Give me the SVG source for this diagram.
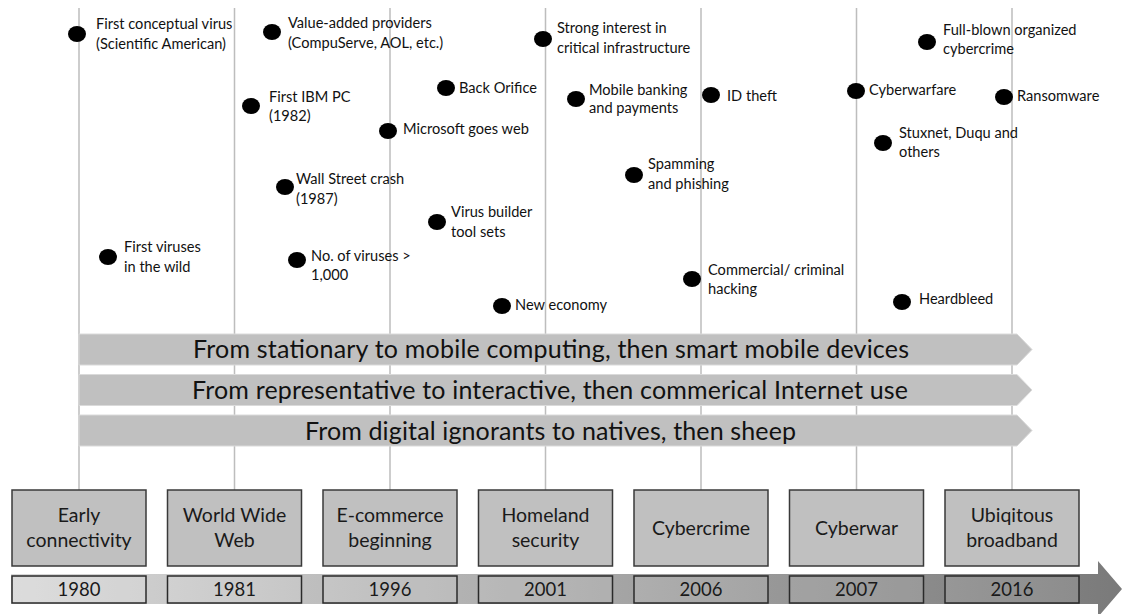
<svg xmlns="http://www.w3.org/2000/svg" width="1122" height="614" viewBox="0 0 1122 614">
<style>
.lbl{font-family:Lato,"Liberation Sans",sans-serif;font-size:14.6px;fill:#111}
.dot{fill:#000}
.vline{stroke:#bdbdbd;stroke-width:1.5;fill:none}
.trend{fill:#c0c0c0;stroke:#dadada;stroke-width:1}
.trendtxt{font-family:Lato,"Liberation Sans",sans-serif;font-size:25px;fill:#111;text-anchor:middle}
.box{fill:#c0c0c0;stroke:#3a3a3a;stroke-width:1.5}
.year{fill:#ffffff;fill-opacity:0.12;stroke:#2a2a2a;stroke-width:1.5}
.boxtxt{font-family:Lato,"Liberation Sans",sans-serif;font-size:19.5px;fill:#1a1a1a;text-anchor:middle}
.yeartxt{font-family:Lato,"Liberation Sans",sans-serif;font-size:18.5px;fill:#1a1a1a;text-anchor:middle}
</style>
<defs>
<linearGradient id="band" gradientUnits="userSpaceOnUse" x1="11" y1="0" x2="1122" y2="0">
<stop offset="0" stop-color="#d8d8d8"/>
<stop offset="1" stop-color="#7a7a7a"/>
</linearGradient>
</defs>
<rect width="1122" height="614" fill="#fff"/>
<g id="connectors">
<line class="vline" x1="79" y1="8" x2="79" y2="490"/>
<line class="vline" x1="234.5" y1="8" x2="234.5" y2="490"/>
<line class="vline" x1="390" y1="8" x2="390" y2="490"/>
<line class="vline" x1="545.5" y1="8" x2="545.5" y2="490"/>
<line class="vline" x1="701" y1="8" x2="701" y2="490"/>
<line class="vline" x1="856.5" y1="8" x2="856.5" y2="490"/>
<line class="vline" x1="1012" y1="8" x2="1012" y2="490"/>
</g>
<g id="trend1">
<path class="trend" d="M79,334 H1017 L1032,349.5 L1017,365 H79 Z"/>
<text class="trendtxt" x="551" y="358" textLength="716">From stationary to mobile computing, then smart mobile devices</text>
</g>
<g id="trend2">
<path class="trend" d="M79,374.5 H1017 L1032,390 L1017,405.5 H79 Z"/>
<text class="trendtxt" x="550" y="399" textLength="716">From representative to interactive, then commerical Internet use</text>
</g>
<g id="trend3">
<path class="trend" d="M79,415 H1017 L1032,430.5 L1017,446 H79 Z"/>
<text class="trendtxt" x="550.5" y="440" textLength="491">From digital ignorants to natives, then sheep</text>
</g>
<g id="timeline">
<path d="M11,574 H1098 V561 L1122,589 L1098,617 V604 H11 Z" fill="url(#band)"/>
</g>
<g id="phase1"><rect class="box" x="12" y="490" width="134" height="76"/><text class="boxtxt" x="79" y="522">Early</text><text class="boxtxt" x="79" y="547">connectivity</text><rect class="year" x="12" y="576" width="134" height="27"/><text class="yeartxt" x="79" y="596">1980</text></g>
<g id="phase2"><rect class="box" x="167.5" y="490" width="134" height="76"/><text class="boxtxt" x="234.5" y="522">World Wide</text><text class="boxtxt" x="234.5" y="547">Web</text><rect class="year" x="167.5" y="576" width="134" height="27"/><text class="yeartxt" x="234.5" y="596">1981</text></g>
<g id="phase3"><rect class="box" x="323" y="490" width="134" height="76"/><text class="boxtxt" x="390" y="522">E-commerce</text><text class="boxtxt" x="390" y="547">beginning</text><rect class="year" x="323" y="576" width="134" height="27"/><text class="yeartxt" x="390" y="596">1996</text></g>
<g id="phase4"><rect class="box" x="478.5" y="490" width="134" height="76"/><text class="boxtxt" x="545.5" y="522">Homeland</text><text class="boxtxt" x="545.5" y="547">security</text><rect class="year" x="478.5" y="576" width="134" height="27"/><text class="yeartxt" x="545.5" y="596">2001</text></g>
<g id="phase5"><rect class="box" x="634" y="490" width="134" height="76"/><text class="boxtxt" x="701" y="535">Cybercrime</text><rect class="year" x="634" y="576" width="134" height="27"/><text class="yeartxt" x="701" y="596">2006</text></g>
<g id="phase6"><rect class="box" x="789.5" y="490" width="134" height="76"/><text class="boxtxt" x="856.5" y="535">Cyberwar</text><rect class="year" x="789.5" y="576" width="134" height="27"/><text class="yeartxt" x="856.5" y="596">2007</text></g>
<g id="phase7"><rect class="box" x="945" y="490" width="134" height="76"/><text class="boxtxt" x="1012" y="522">Ubiqitous</text><text class="boxtxt" x="1012" y="547">broadband</text><rect class="year" x="945" y="576" width="134" height="27"/><text class="yeartxt" x="1012" y="596">2016</text></g>
<g id="ev1"><ellipse class="dot" cx="77" cy="34" rx="9" ry="8"/><text class="lbl" x="96" y="29">First conceptual virus</text><text class="lbl" x="96" y="49">(Scientific American)</text></g>
<g id="ev2"><ellipse class="dot" cx="272" cy="32" rx="9" ry="8"/><text class="lbl" x="288" y="28">Value-added providers</text><text class="lbl" x="288" y="48">(CompuServe, AOL, etc.)</text></g>
<g id="ev3"><ellipse class="dot" cx="251" cy="106" rx="9" ry="8"/><text class="lbl" x="269" y="102">First IBM PC</text><text class="lbl" x="269" y="121">(1982)</text></g>
<g id="ev4"><ellipse class="dot" cx="285" cy="187" rx="9" ry="8"/><text class="lbl" x="296" y="184">Wall Street crash</text><text class="lbl" x="296" y="204">(1987)</text></g>
<g id="ev5"><ellipse class="dot" cx="108" cy="257" rx="9" ry="8"/><text class="lbl" x="124" y="252">First viruses</text><text class="lbl" x="124" y="272">in the wild</text></g>
<g id="ev6"><ellipse class="dot" cx="297" cy="260" rx="9" ry="8"/><text class="lbl" x="311" y="261">No. of viruses &gt;</text><text class="lbl" x="311" y="280">1,000</text></g>
<g id="ev7"><ellipse class="dot" cx="543" cy="39" rx="9" ry="8"/><text class="lbl" x="557" y="33">Strong interest in</text><text class="lbl" x="557" y="53">critical infrastructure</text></g>
<g id="ev8"><ellipse class="dot" cx="446" cy="88" rx="9" ry="8"/><text class="lbl" x="459" y="93">Back Orifice</text></g>
<g id="ev9"><ellipse class="dot" cx="576" cy="99" rx="9" ry="8"/><text class="lbl" x="589" y="95">Mobile banking</text><text class="lbl" x="589" y="113">and payments</text></g>
<g id="ev10"><ellipse class="dot" cx="711" cy="95" rx="9" ry="8"/><text class="lbl" x="727" y="101">ID theft</text></g>
<g id="ev11"><ellipse class="dot" cx="388" cy="131" rx="9" ry="8"/><text class="lbl" x="403" y="134">Microsoft goes web</text></g>
<g id="ev12"><ellipse class="dot" cx="634" cy="175" rx="9" ry="8"/><text class="lbl" x="648" y="169">Spamming</text><text class="lbl" x="648" y="189">and phishing</text></g>
<g id="ev13"><ellipse class="dot" cx="437" cy="222" rx="9" ry="8"/><text class="lbl" x="451" y="217">Virus builder</text><text class="lbl" x="451" y="237">tool sets</text></g>
<g id="ev14"><ellipse class="dot" cx="692" cy="279" rx="9" ry="8"/><text class="lbl" x="708" y="275">Commercial/ criminal</text><text class="lbl" x="708" y="294">hacking</text></g>
<g id="ev15"><ellipse class="dot" cx="502" cy="306" rx="9" ry="8"/><text class="lbl" x="515" y="310">New economy</text></g>
<g id="ev16"><ellipse class="dot" cx="927" cy="42" rx="9" ry="8"/><text class="lbl" x="943" y="35">Full-blown organized</text><text class="lbl" x="943" y="54">cybercrime</text></g>
<g id="ev17"><ellipse class="dot" cx="856" cy="91" rx="9" ry="8"/><text class="lbl" x="869" y="95">Cyberwarfare</text></g>
<g id="ev18"><ellipse class="dot" cx="1004" cy="97" rx="9" ry="8"/><text class="lbl" x="1017" y="101">Ransomware</text></g>
<g id="ev19"><ellipse class="dot" cx="883" cy="143" rx="9" ry="8"/><text class="lbl" x="899" y="138">Stuxnet, Duqu and</text><text class="lbl" x="899" y="157">others</text></g>
<g id="ev20"><ellipse class="dot" cx="902" cy="302" rx="9" ry="8"/><text class="lbl" x="919" y="304">Heardbleed</text></g>
</svg>
